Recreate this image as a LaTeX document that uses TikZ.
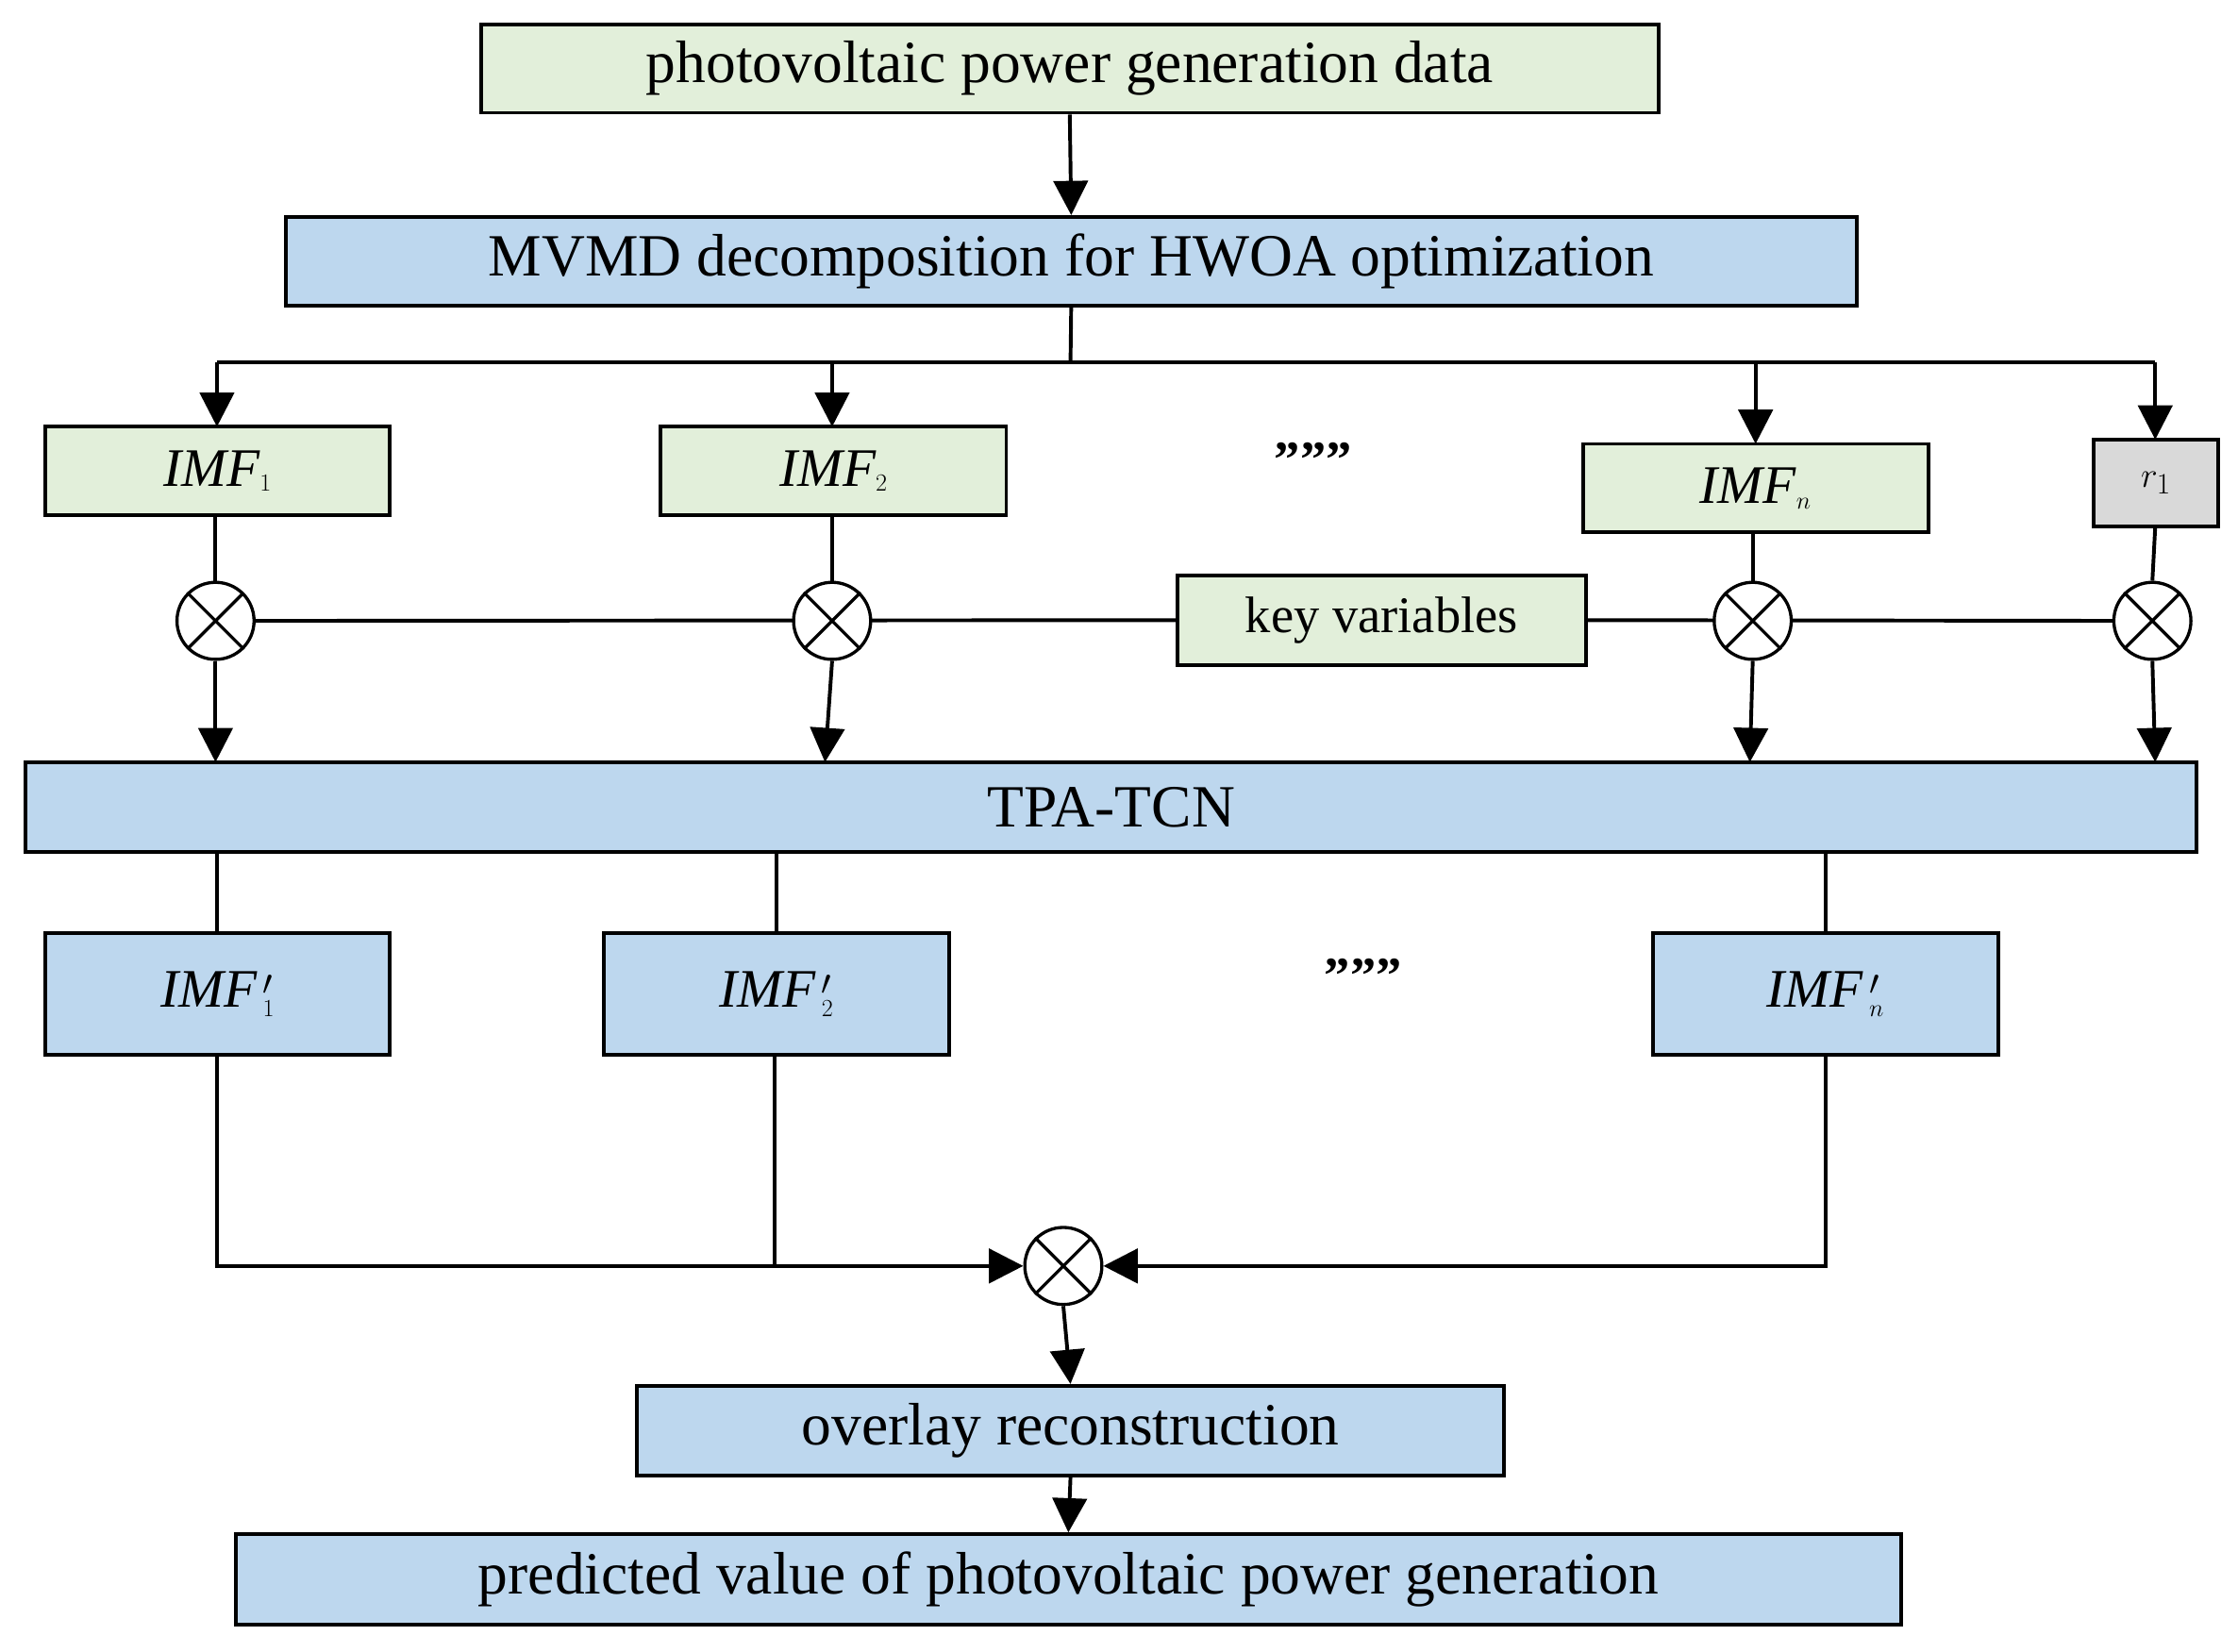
\documentclass[tikz,border=0pt]{standalone}
\usepackage{fontspec}
\setmainfont{Liberation Serif}
\usetikzlibrary{arrows.meta}
\definecolor{gbox}{RGB}{226,239,218}
\definecolor{bbox}{RGB}{189,215,238}
\definecolor{grbox}{RGB}{217,217,217}
\begin{document}
\begin{tikzpicture}[x=1pt,y=-1pt,
 ln/.style={line width=2.6pt},
 ar/.style={ln,-{Triangle[length=24pt,width=24pt]}},
 bx/.style={draw,line width=2.6pt,inner sep=0pt,font=\fontsize{42}{48}\selectfont},
 ox/.style={draw,circle,line width=2.2pt,minimum size=54pt,inner sep=0pt,fill=white}]
\useasboundingbox (0,0) rectangle (1568,1157);
\newcommand\boxat[6]{\node[bx,fill=#5,minimum width=#3-#1,minimum height=#4-#2] (#6) at ({(#1+#3)/2},{(#2+#4)/2}) {};}
\boxat{337}{17}{1162}{79}{gbox}{top}
\node at (top) {\fontsize{42}{48}\selectfont photovoltaic power generation data};
\boxat{200}{152}{1301}{214}{bbox}{mvmd}
\node at (mvmd) {\fontsize{42}{48}\selectfont MVMD decomposition for HWOA optimization};
\boxat{32}{299}{273}{361}{gbox}{i1}
\node at (i1) {\fontsize{38}{44}\selectfont $\mathit{IMF}_{\scriptscriptstyle 1}$};
\boxat{463}{299}{705}{361}{gbox}{i2}
\node at (i2) {\fontsize{38}{44}\selectfont $\mathit{IMF}_{\scriptscriptstyle 2}$};
\boxat{1109}{311}{1351}{373}{gbox}{in}
\node at (in) {\fontsize{38}{44}\selectfont $\mathit{IMF}_{\scriptscriptstyle n}$};
\boxat{1467}{308}{1554}{369}{grbox}{r1}
\node[draw=none] at (r1) {\fontsize{44}{50}\selectfont $r_{\scriptscriptstyle 1}$};
\node at (920,322) {\fontsize{36}{40}\selectfont\textbf{''''''}};
\node at (955,684) {\fontsize{36}{40}\selectfont\textbf{''''''}};
\boxat{825}{403}{1111}{466}{gbox}{key}
\node at (key) {\fontsize{36}{42}\selectfont key variables};
\boxat{18}{534}{1539}{597}{bbox}{tpa}
\node at (tpa) {\fontsize{42}{48}\selectfont TPA-TCN};
\boxat{32}{654}{273}{739}{bbox}{p1}
\node at (p1) {\fontsize{38}{44}\selectfont $\mathit{IMF}\,{}_{\scriptscriptstyle 1}'$};
\boxat{423}{654}{665}{739}{bbox}{p2}
\node at (p2) {\fontsize{38}{44}\selectfont $\mathit{IMF}\,{}_{\scriptscriptstyle 2}'$};
\boxat{1158}{654}{1400}{739}{bbox}{pn}
\node at (pn) {\fontsize{38}{44}\selectfont $\mathit{IMF}\,{}_{\scriptscriptstyle n}'$};
\boxat{446}{971}{1054}{1034}{bbox}{ov}
\node at (ov) {\fontsize{42}{48}\selectfont overlay reconstruction};
\boxat{165}{1075}{1332}{1138}{bbox}{pr}
\node at (pr) {\fontsize{42}{48}\selectfont predicted value of photovoltaic power generation};
% arrows top
\draw[ar] (top.south) -- (mvmd.north);
\coordinate (sp) at (750,254);
\draw[ln] (mvmd.south) -- (sp);
\draw[ln] (152,254) -- (1510,254);
\draw[ar] (152,254) -- (152,299);
\draw[ar] (583,254) -- (583,299);
\draw[ar] (1230,254) -- (1230,311);
\draw[ar] (1510,254) -- (1510,308);
% multiply row
\draw[ln] (151,435) -- (key.west);
\draw[ln] (key.east) -- (1508,435);
\node[ox] (c1) at (151,435) {};
\node[ox] (c2) at (583,435) {};
\node[ox] (c3) at (1228,435) {};
\node[ox] (c4) at (1508,435) {};
\foreach \c in {c1,c2,c3,c4,c5}{}
\draw[ln] (151,361) -- (c1.north); \draw[ln] (583,361) -- (c2.north);
\draw[ln] (1228,373) -- (c3.north); \draw[ln] (1510,369) -- (c4.north);
\draw[ar] (c1.south) -- (151,534); \draw[ar] (c2.south) -- (578,534);
\draw[ar] (c3.south) -- (1226,534); \draw[ar] (c4.south) -- (1510,534);
% below TPA
\draw[ln] (152,597) -- (152,654); \draw[ln] (544,597) -- (544,654); \draw[ln] (1279,597) -- (1279,654);
\node[ox] (c5) at (745,887) {};
\foreach \c in {c1,c2,c3,c4,c5}{
 \draw[line width=2.2pt] (\c.north east) -- (\c.south west);
 \draw[line width=2.2pt] (\c.north west) -- (\c.south east);}
\draw[ar] (152,739) -- (152,887) -- (c5.west);
\draw[ln] (543,739) -- (543,887);
\draw[ar] (1279,739) -- (1279,887) -- (c5.east);
\draw[ar] (c5.south) -- (ov.north);
\draw[ar] (ov.south) -- (pr.north);
\end{tikzpicture}
\end{document}
